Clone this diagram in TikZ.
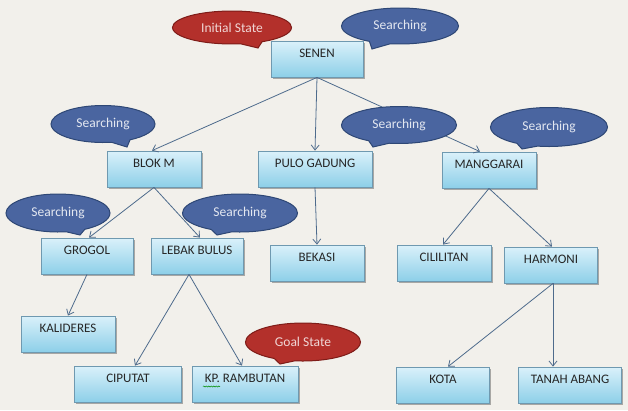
\documentclass[tikz,border=0pt]{standalone}
\usepackage{fontspec}
\setmainfont{Carlito}
\usetikzlibrary{shapes.callouts,shadows,arrows.meta,decorations.pathmorphing}
\definecolor{bg}{HTML}{F2F0EB}
\definecolor{boxtop}{HTML}{DAF1FA}
\definecolor{boxbot}{HTML}{8DCFE8}
\definecolor{boxline}{HTML}{6F99B0}
\definecolor{arrowc}{HTML}{4E6B8C}
\definecolor{bluefill}{HTML}{4A65A0}
\definecolor{blueline}{HTML}{2E4775}
\definecolor{redfill}{HTML}{B3302B}
\definecolor{redline}{HTML}{7E1C18}
\begin{document}
\begin{tikzpicture}[x=1pt,y=-1pt,
 stationbox/.style={draw=boxline, line width=0.8pt, top color=boxtop, bottom color=boxbot,
   minimum height=36pt, text height=9pt, text depth=12pt, inner sep=0pt,
   font=\fontsize{13}{15}\selectfont, text=black!85,
   drop shadow={shadow xshift=1.5pt,shadow yshift=-1.5pt,opacity=0.3,fill=black}},
 link/.style={draw=arrowc, line width=0.8pt, -{Straight Barb[length=5pt,width=8pt]}},
 bubble/.style={ellipse callout, inner sep=0pt, line width=1pt,
   font=\fontsize{13.5}{15}\selectfont, callout pointer arc=22},
 searchbub/.style={bubble, fill=bluefill, draw=blueline, text=white!85!bluefill},
 statebub/.style={bubble, fill=redfill, draw=redline, text=white!80!redfill},
]
\fill[bg] (0,0) rectangle (628,410);
\useasboundingbox (0,0) rectangle (628,410);

% stations
\node[stationbox, minimum width=92pt]  (senen)     at (317,59)  {SENEN};
\node[stationbox, minimum width=94pt]  (blokm)     at (154,169) {BLOK M};
\node[stationbox, minimum width=114pt] (pulo)      at (315,169) {PULO GADUNG};
\node[stationbox, minimum width=94pt]  (mangg)     at (489,170) {MANGGARAI};
\node[stationbox, minimum width=92pt]  (grogol)    at (87,256)  {GROGOL};
\node[stationbox, minimum width=92pt]  (lebak)     at (197,256) {LEBAK BULUS};
\node[stationbox, minimum width=94pt]  (bekasi)    at (317,263) {BEKASI};
\node[stationbox, minimum width=94pt]  (cililitan) at (444,263) {CILILITAN};
\node[stationbox, minimum width=93pt]  (harmoni)   at (551,265) {HARMONI};
\node[stationbox, minimum width=94pt]  (kalideres) at (68,334)  {KALIDERES};
\node[stationbox, minimum width=107pt] (ciputat)   at (128,384) {CIPUTAT};
\node[stationbox, minimum width=106pt] (kprambutan) at (245,384) {KP. RAMBUTAN};
\node[stationbox, minimum width=93pt]  (kota)      at (443,385) {KOTA};
\node[stationbox, minimum width=103pt] (tanah)     at (570,385) {TANAH ABANG};

% spelling squiggle under KP.
\draw[green!55!black, line width=0.5pt, decorate, decoration={snake,amplitude=0.6pt,segment length=2.5pt}]
  (203,386.5) -- (220,386.5);

% connectors
\draw[link] (senen.south) -- ([xshift=-2pt]blokm.north);
\draw[link] (senen.south) -- (pulo.north);
\draw[link] (senen.south) -- ([xshift=-9pt]mangg.north);
\draw[link] (blokm.south) -- ([xshift=2pt]grogol.north);
\draw[link] (blokm.south) -- ([xshift=3pt]lebak.north);
\draw[link] (pulo.south) -- (bekasi.north);
\draw[link] (mangg.south) -- ([xshift=-1pt]cililitan.north);
\draw[link] (mangg.south) -- ([xshift=1pt]harmoni.north);
\draw[link] (grogol.south) -- (kalideres.north);
\draw[link] ([xshift=-8pt]lebak.south) -- ([xshift=7pt]ciputat.north);
\draw[link] ([xshift=-8pt]lebak.south) -- ([xshift=-3pt]kprambutan.north);
\draw[link] ([xshift=2pt]harmoni.south) -- ([xshift=5pt]kota.north);
\draw[link] ([xshift=2pt]harmoni.south) -- ([xshift=2pt]harmoni.south |- tanah.north);

% callouts
\node[statebub, minimum width=119pt, minimum height=33pt, callout absolute pointer={(258,48)}]
  (initial) at (232,27.5) {Initial State};
\node[searchbub, minimum width=117pt, minimum height=36pt, callout absolute pointer={(372,49)}]
  (s1) at (400,26) {Searching};
\node[searchbub, minimum width=104pt, minimum height=37pt, callout absolute pointer={(127,147)}]
  (s2) at (103,124) {Searching};
\node[searchbub, minimum width=104pt, minimum height=38pt, callout absolute pointer={(80,235)}]
  (s3) at (58,213) {Searching};
\node[searchbub, minimum width=115pt, minimum height=38pt, callout absolute pointer={(217,235)}]
  (s4) at (240,213) {Searching};
\node[searchbub, minimum width=115pt, minimum height=37pt, callout absolute pointer={(373,147)}]
  (s5) at (399,125) {Searching};
\node[searchbub, minimum width=117pt, minimum height=39pt, callout absolute pointer={(522,149)}]
  (s6) at (549,127) {Searching};
\node[statebub, minimum width=115pt, minimum height=38pt, callout absolute pointer={(280,364)}]
  (goal) at (303,342) {Goal State};
\end{tikzpicture}
\end{document}
